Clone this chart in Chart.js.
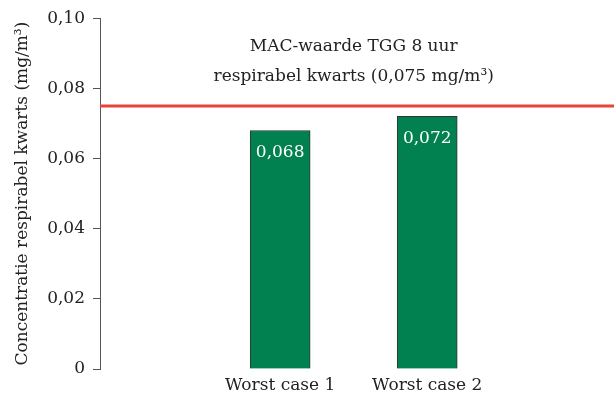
<!DOCTYPE html>
<html>
<head>
<meta charset="utf-8">
<script src="https://cdn.jsdelivr.net/npm/chart.js@4"></script>
<style>
  body { margin: 0; background: #fff; }
  #wrap { width: 614px; height: 400px; position: relative; }
</style>
</head>
<body>
<div id="wrap"><canvas id="grafiek"></canvas></div>
<script>
const categorieen = ['Worst case 1', 'Worst case 2'];
const posities = [1, 2];
const concentraties = [0.068, 0.072];
const waardeLabels = ['0,068', '0,072'];
const macWaarde = 0.075;
const macTekst = ['MAC-waarde TGG 8 uur', 'respirabel kwarts (0,075 mg/m³)'];
const yTicks = [0, 0.02, 0.04, 0.06, 0.08, 0.10];

const lettertype = '"DejaVu Serif", serif';
const tekstKleur = '#222';

// rode MAC-lijn + tekst erboven
const macLijn = {
    id: 'macLijn',
    afterDatasetsDraw(chart) {
        const ctx = chart.ctx;
        const y = chart.scales.y.getPixelForValue(macWaarde);
        const xMidden = chart.scales.x.getPixelForValue(1.5);
        ctx.save();
        ctx.strokeStyle = '#e8443a';
        ctx.lineWidth = 3;
        ctx.beginPath();
        ctx.moveTo(chart.chartArea.left, y);
        ctx.lineTo(chart.width, y);
        ctx.stroke();
        ctx.fillStyle = tekstKleur;
        ctx.font = '17px ' + lettertype;
        ctx.textAlign = 'center';
        ctx.textBaseline = 'middle';
        ctx.fillText(macTekst[0], xMidden, y - 59);
        ctx.fillText(macTekst[1], xMidden, y - 29);

        // waarden in de staven
        const meta = chart.getDatasetMeta(0);
        ctx.fillStyle = '#fff';
        meta.data.forEach((staaf, i) => {
            ctx.fillText(waardeLabels[i], staaf.x, staaf.y + 22);
        });
        ctx.restore();
    }
};

new Chart(document.getElementById('grafiek'), {
    type: 'bar',
    data: {
        datasets: [{
            data: posities.map((p, i) => ({ x: p, y: concentraties[i] })),
            backgroundColor: '#00814f',
            borderColor: '#333',
            borderWidth: 1,
            barThickness: 60
        }]
    },
    options: {
        responsive: true,
        maintainAspectRatio: false,
        animation: false,
        layout: { padding: { top: 15, right: 0, left: 0, bottom: 0 } },
        plugins: { legend: { display: false }, tooltip: { enabled: false } },
        scales: {
            x: {
                type: 'linear',
                offset: false,
                min: -0.225,
                max: 3.27,
                grid: { display: false, drawTicks: false },
                border: { display: false },
                afterBuildTicks: scale => { scale.ticks = posities.map(p => ({ value: p })); },
                afterFit: scale => { scale.height = 31; },
                ticks: {
                    padding: 6,
                    color: tekstKleur,
                    font: { family: lettertype, size: 17 },
                    callback: v => categorieen[posities.indexOf(v)] || ''
                }
            },
            y: {
                min: 0,
                max: 0.1,
                afterBuildTicks: scale => { scale.ticks = yTicks.map(v => ({ value: v })); },
                afterFit: scale => { scale.width = 100; },
                grid: { drawOnChartArea: false, drawTicks: true, tickLength: 7, color: '#555' },
                border: { display: true, color: '#555', width: 1 },
                ticks: {
                    padding: 8,
                    color: tekstKleur,
                    font: { family: lettertype, size: 17 },
                    callback: v => v === 0 ? '0' : v.toFixed(2).replace('.', ',')
                },
                title: {
                    display: true,
                    text: 'Concentratie respirabel kwarts (mg/m³)',
                    color: tekstKleur,
                    font: { family: lettertype, size: 17 },
                    padding: { top: 12, bottom: 4 }
                }
            }
        }
    },
    plugins: [macLijn]
});
</script>
</body>
</html>
